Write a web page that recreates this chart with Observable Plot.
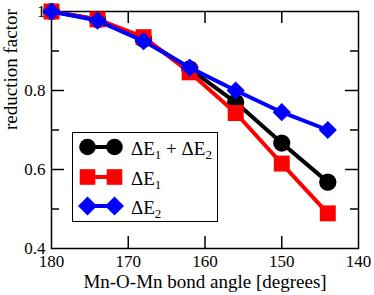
<!DOCTYPE html>
<html><head><meta charset="utf-8">
<script src="https://cdn.jsdelivr.net/npm/d3@7"></script>
<script src="https://cdn.jsdelivr.net/npm/@observablehq/plot@0.6"></script>
<style>
body{margin:0;background:#fff;}
#wrap{position:relative;width:374px;height:295px;font-family:"Liberation Serif","Times New Roman",serif;}
#legend{position:absolute;left:72px;top:132px;width:146px;height:90px;box-sizing:border-box;border:1.5px solid #000;background:#fff;}
#legend svg{position:absolute;left:-1.5px;top:-1.5px;overflow:visible;}
</style></head><body>
<div id="wrap"></div>
<script>
const angles = [180, 174, 168, 162, 156, 150, 144];
const both = [1.0, 0.98, 0.93, 0.855, 0.77, 0.667, 0.568];
const dE1 = [1.0, 0.98, 0.935, 0.846, 0.743, 0.615, 0.489];
const dE2 = [1.0, 0.977, 0.925, 0.858, 0.80, 0.745, 0.70];
const xMajor = [180, 170, 160, 150, 140];
const yMajor = [0.4, 0.6, 0.8, 1.0];
const yMinor = [0.5, 0.7, 0.9];
const seriesNames = [["ΔE", "1", " + ΔE", "2"], ["ΔE", "1"], ["ΔE", "2"]];
const colors = ["#000000", "#ff0000", "#0000ff"];
const symbols = ["circle", "square", "diamond2"];
const radii = [8.6, 9, 8.2];

const series = [both, dE1, dE2];
const W = 374, H = 295, mt = 11, mb = 47, ml = 51, mr = 16;
const ph = H - mt - mb, pw = W - ml - mr;
const FONT = "'Liberation Serif', 'Times New Roman', serif";

const marks = [];
marks.push(Plot.axisX(xMajor, {tickSize: 0, tickPadding: 6.5, fontSize: 17, label: null}));
marks.push(Plot.axisY(yMajor, {tickSize: 0, tickPadding: 6, fontSize: 17, label: null, tickFormat: d => d === 1 ? "1" : d3.format(".1f")(d)}));
marks.push(Plot.text(["Mn-O-Mn bond angle [degrees]"], {frameAnchor: "bottom", lineAnchor: "middle", dy: 33, fontSize: 19, text: d => d}));
marks.push(Plot.text(["reduction factor"], {frameAnchor: "left", lineAnchor: "middle", dx: -41, rotate: -90, fontSize: 19, text: d => d}));
// inward ticks
marks.push(Plot.tickX(xMajor.slice(1, -1), {x: d => d, insetTop: ph - 12, strokeWidth: 1.5}));
marks.push(Plot.tickX(xMajor.slice(1, -1), {x: d => d, insetBottom: ph - 12, strokeWidth: 1.5}));
marks.push(Plot.tickY(yMajor.slice(1, -1), {y: d => d, insetRight: pw - 13, strokeWidth: 1.5}));
marks.push(Plot.tickY(yMajor.slice(1, -1), {y: d => d, insetLeft: pw - 13, strokeWidth: 1.5}));
marks.push(Plot.tickY(yMinor, {y: d => d, insetRight: pw - 8, strokeWidth: 1.5}));
marks.push(Plot.tickY(yMinor, {y: d => d, insetLeft: pw - 8, strokeWidth: 1.5}));
marks.push(Plot.frame({strokeWidth: 1.5}));
series.forEach((vals, i) => {
  const data = angles.map((a, j) => ({a, v: vals[j]}));
  marks.push(Plot.line(data, {x: "a", y: "v", stroke: colors[i], strokeWidth: 4}));
  marks.push(Plot.dot(data, {x: "a", y: "v", fill: colors[i], symbol: symbols[i], r: radii[i], stroke: null}));
});

const chart = Plot.plot({
  width: W, height: H,
  marginTop: mt, marginBottom: mb, marginLeft: ml, marginRight: mr,
  x: {domain: [180, 140], axis: null},
  y: {domain: [0.4, 1.0], axis: null},
  style: {fontFamily: FONT, fontSize: "17px", color: "#000", background: "#fff", overflow: "visible"},
  marks
});
const wrap = document.getElementById("wrap");
wrap.appendChild(chart);

// legend
const leg = document.createElement("div");
leg.id = "legend";
const rowY = [15, 45, 74];
const mx = [15.5, 42.5];
const symSvg = {
  circle: (c, x, y) => `<circle cx="${x}" cy="${y}" r="8.3" fill="${c}"/>`,
  square: (c, x, y) => `<rect x="${x - 7.8}" y="${y - 7.8}" width="15.6" height="15.6" fill="${c}"/>`,
  diamond2: (c, x, y) => `<path d="M${x - 9.5},${y}L${x},${y - 9.5}L${x + 9.5},${y}L${x},${y + 9.5}Z" fill="${c}"/>`
};
let svg = `<svg width="146" height="90" style="font-family:${FONT}">`;
seriesNames.forEach((parts, i) => {
  const y = rowY[i], c = colors[i];
  svg += `<line x1="${mx[0]}" y1="${y}" x2="${mx[1]}" y2="${y}" stroke="${c}" stroke-width="4"/>`;
  svg += symSvg[symbols[i]](c, mx[0], y) + symSvg[symbols[i]](c, mx[1], y);
  let t = `<text x="59" y="${y + 7.5}" font-size="19">`;
  parts.forEach((p, k) => {
    if (k % 2 === 0) t += `<tspan font-size="19" dy="${k === 0 ? 0 : -4}">${p}</tspan>`;
    else t += `<tspan font-size="13" dy="4">${p}</tspan>`;
  });
  t += `</text>`;
  svg += t;
});
svg += `</svg>`;
leg.innerHTML = svg;
wrap.appendChild(leg);
</script>
</body></html>
